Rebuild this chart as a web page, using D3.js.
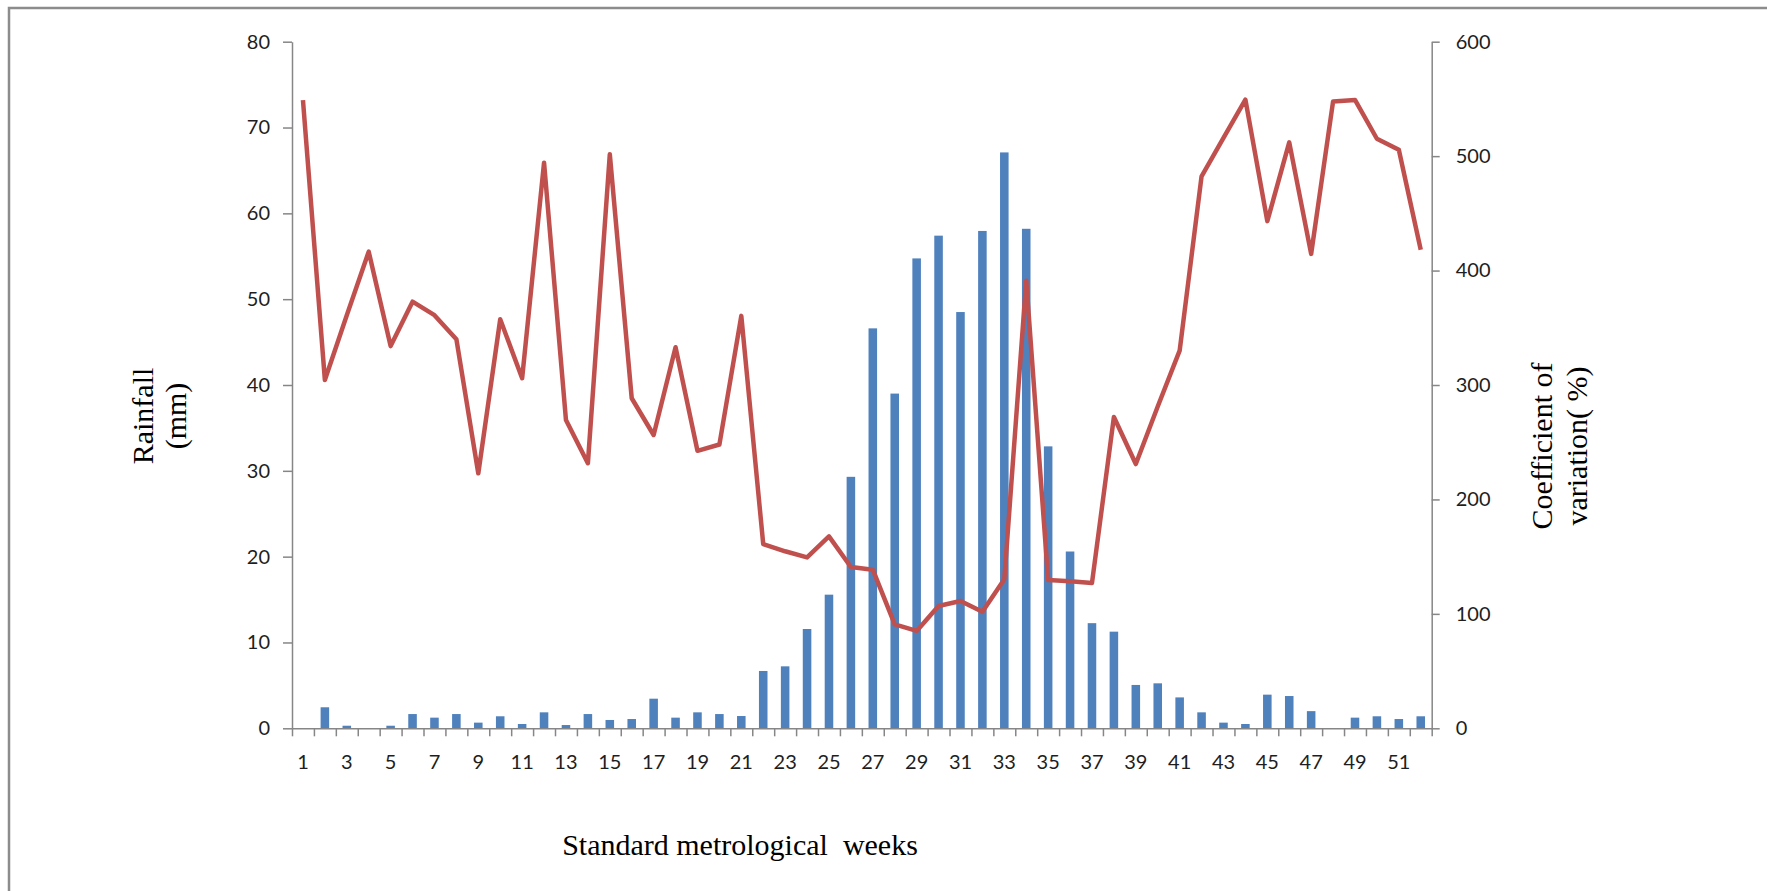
<!DOCTYPE html>
<html>
<head>
<meta charset="utf-8">
<script src="https://cdn.jsdelivr.net/npm/d3@7"></script>
<style>
  body { margin: 0; background: #fff; }
  svg { display: block; }
  .tick text { font-family: Lato, "Open Sans", sans-serif; font-size: 20px; fill: #1e1e1e; }
  .title { font-family: "Liberation Serif", "Times New Roman", serif; font-size: 30px; fill: #000; white-space: pre; }
</style>
</head>
<body>
<script>
// Standard meteorological weeks (categories)
const weeks = [1, 2, 3, 4, 5, 6, 7, 8, 9, 10, 11, 12, 13, 14, 15, 16, 17, 18, 19, 20,
  21, 22, 23, 24, 25, 26, 27, 28, 29, 30, 31, 32, 33, 34, 35, 36, 37, 38, 39, 40,
  41, 42, 43, 44, 45, 46, 47, 48, 49, 50, 51, 52];

// Weekly rainfall (mm), left axis
const rainfall = [0, 2.45, 0.3, 0, 0.3, 1.66, 1.24, 1.66, 0.66, 1.4,
  0.5, 1.86, 0.38, 1.66, 0.97, 1.08, 3.45, 1.24, 1.86, 1.66,
  1.43, 6.68, 7.22, 11.57, 15.57, 29.3, 46.6, 39.0, 54.75, 57.4,
  48.5, 57.95, 67.1, 58.2, 32.85, 20.6, 12.25, 11.26, 5.05, 5.24,
  3.6, 1.86, 0.66, 0.5, 3.92, 3.76, 2.0, 0, 1.24, 1.4, 1.08, 1.4];

// Coefficient of variation (%), right axis
const cv = [549, 304.4, 361, 416.5, 334, 372.8, 361, 340, 222.8, 357.4,
  305.9, 494.3, 269.4, 231.6, 501.6, 288.4, 256.3, 333, 242.5, 248,
  360.4, 161, 154.7, 149.3, 167.7, 141, 138.6, 90.8, 85.1, 106.9,
  111.2, 101.8, 130.3, 391.2, 129.6, 128.6, 127, 272, 230.9, 281.2,
  330, 482.4, 515.9, 549.4, 443.2, 512, 414.6, 547.7, 549.1, 515.2, 505.5, 418.2];

// Tick values
const rainTicks = [0, 10, 20, 30, 40, 50, 60, 70, 80];
const cvTicks = [0, 100, 200, 300, 400, 500, 600];
const weekLabels = weeks.filter(w => w % 2 === 1);

const width = 1767, height = 891;
const plot = {left: 292, right: 1431.7, top: 41.7, bottom: 728.3};

const svg = d3.select('body').append('svg')
  .attr('width', width)
  .attr('height', height);

svg.append('rect')
  .attr('width', width)
  .attr('height', height)
  .attr('fill', '#fff');

// Frame lines (top and left edges of the figure box)
svg.append('path')
  .attr('d', 'M9,891 V8 H1767')
  .attr('fill', 'none')
  .attr('stroke', '#8c8c8c')
  .attr('stroke-width', 2.5);

// Scales
const x = d3.scaleBand()
  .domain(weeks)
  .range([plot.left, plot.right])
  .paddingInner(0.61)
  .paddingOuter(0.305);
const xEdge = d3.scaleLinear()
  .domain([0, weeks.length])
  .range([plot.left, plot.right]);
const yRain = d3.scaleLinear().domain([0, 80]).range([plot.bottom, plot.top]);
const yCv = d3.scaleLinear().domain([0, 600]).range([plot.bottom, plot.top]);

// Bars: rainfall
svg.append('g')
  .selectAll('rect')
  .data(weeks)
  .join('rect')
  .attr('x', (d) => x(d))
  .attr('width', x.bandwidth())
  .attr('y', (d, i) => yRain(rainfall[i]))
  .attr('height', (d, i) => plot.bottom - yRain(rainfall[i]))
  .attr('fill', '#4F81BD');

// Axes
const axisColor = '#868686';
function styleAxis(g) {
  g.selectAll('.domain').attr('stroke', axisColor).attr('stroke-width', 1.5);
  g.selectAll('.tick line').attr('stroke', axisColor).attr('stroke-width', 1.5);
}

svg.append('g')
  .attr('transform', 'translate(' + plot.left + ',0)')
  .call(d3.axisLeft(yRain).tickValues(rainTicks).tickSize(9).tickSizeOuter(0).tickPadding(13))
  .call(styleAxis);

svg.append('g')
  .attr('transform', 'translate(' + plot.right + ',0)')
  .call(d3.axisRight(yCv).tickValues(cvTicks).tickSize(8).tickSizeOuter(0).tickPadding(16))
  .call(styleAxis);

// Category axis: ticks on band edges, labels on every second week
svg.append('g')
  .attr('transform', 'translate(0,' + plot.bottom + ')')
  .call(d3.axisBottom(xEdge).tickValues(d3.range(weeks.length + 1)).tickFormat('').tickSize(8).tickSizeOuter(0))
  .call(styleAxis);

svg.append('g')
  .attr('transform', 'translate(0,' + plot.bottom + ')')
  .call(d3.axisBottom(x).tickValues(weekLabels).tickSize(0).tickPadding(27))
  .call((g) => g.select('.domain').remove());

// Line: coefficient of variation
const line = d3.line()
  .x((d, i) => x(weeks[i]) + x.bandwidth() / 2)
  .y((d) => yCv(d));

svg.append('path')
  .datum(cv)
  .attr('d', line)
  .attr('fill', 'none')
  .attr('stroke', '#C0504D')
  .attr('stroke-width', 4.5)
  .attr('stroke-linejoin', 'round');

// Axis titles
function rotatedTitle(lines, baselines, cy) {
  lines.forEach((txt, i) => {
    svg.append('text')
      .attr('class', 'title')
      .attr('text-anchor', 'middle')
      .attr('transform', 'translate(' + baselines[i] + ',' + cy + ') rotate(-90)')
      .text(txt);
  });
}
rotatedTitle(['Rainfall', '(mm)'], [153, 186], 416);
rotatedTitle(['Coefficient of', 'variation( %)'], [1552, 1587], 446);

svg.append('text')
  .attr('class', 'title')
  .attr('text-anchor', 'middle')
  .attr('x', 740)
  .attr('y', 855)
  .text('Standard metrological  weeks');
</script>
</body>
</html>
